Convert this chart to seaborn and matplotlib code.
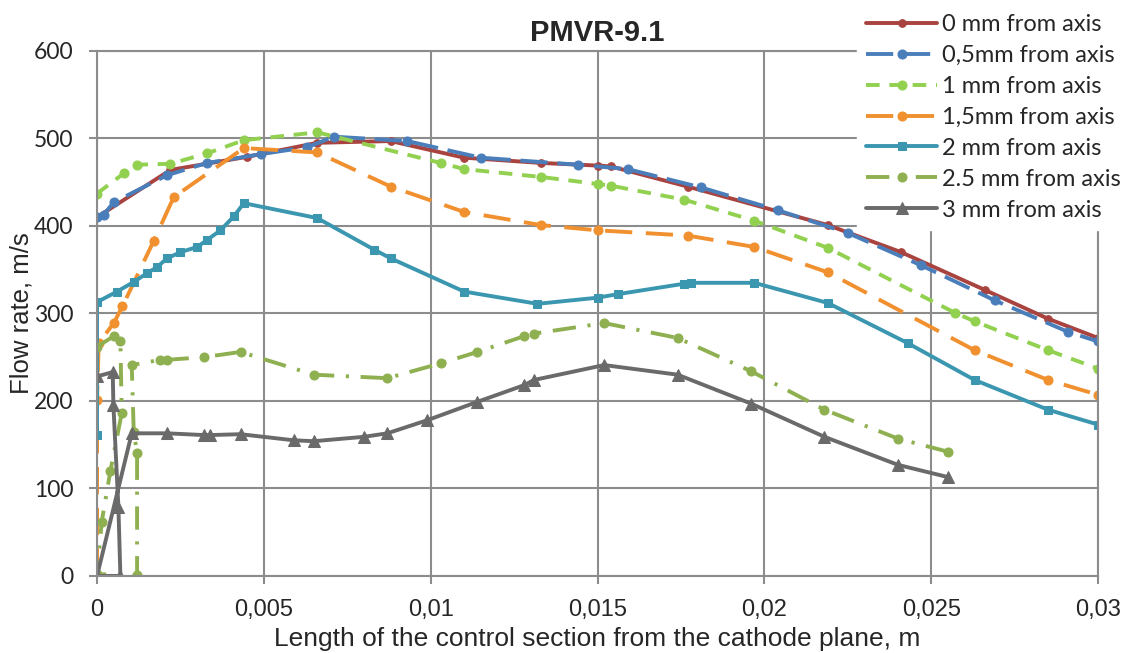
import matplotlib
matplotlib.use("Agg")
import matplotlib.pyplot as plt
import seaborn as sns
import pandas as pd

# values (x in m, y in m/s)
x_0mm = [0, 0.0022, 0.0045, 0.0066, 0.0088, 0.011, 0.0133, 0.015, 0.0154, 0.0177,
         0.0219, 0.0241, 0.0266, 0.0285, 0.03]
y_0mm = [410, 464, 479, 495, 497, 478, 472, 469, 468, 445, 401, 370, 327, 294, 272]

x_05mm = [0, 0.0002, 0.0005, 0.0021, 0.0033, 0.0049, 0.0063, 0.0071, 0.0093, 0.0115,
          0.0144, 0.0159, 0.0181, 0.0204, 0.0225, 0.0247, 0.0269, 0.0291, 0.03]
y_05mm = [410, 413, 427, 458, 472, 482, 490, 502, 497, 478, 470, 465, 444, 418, 392,
          355, 315, 279, 268]

x_1mm = [0, 0.0008, 0.0012, 0.0022, 0.0033, 0.0044, 0.0066, 0.0103, 0.011, 0.0133,
         0.015, 0.0154, 0.0176, 0.0197, 0.0219, 0.0257, 0.0263, 0.0285, 0.03]
y_1mm = [437, 460, 470, 471, 483, 498, 507, 472, 465, 456, 448, 446, 430, 406, 375,
         301, 291, 258, 237]

x_15mm = [0, 0, 0.00005, 0.0005, 0.00076, 0.0017, 0.0023, 0.0044, 0.0066, 0.0088, 0.011,
          0.0133, 0.015, 0.0177, 0.0197, 0.0219, 0.0263, 0.0285, 0.03]
y_15mm = [0, 201, 266, 289, 308, 383, 433, 489, 484, 445, 416, 401, 395, 389, 376, 347,
          258, 224, 207]

x_2mm = [0, 0, 0.0006, 0.0011, 0.0015, 0.0018, 0.0021, 0.0025, 0.003, 0.0033, 0.0037,
         0.0041, 0.0044, 0.0066, 0.0083, 0.0088, 0.011, 0.0132, 0.015, 0.0156, 0.0176,
         0.0178, 0.0197, 0.0219, 0.0243, 0.0263, 0.0285, 0.03]
y_2mm = [161, 313, 325, 336, 346, 353, 363, 370, 376, 384, 395, 411, 426, 409, 373, 363,
         325, 311, 318, 322, 334, 335, 335, 312, 266, 224, 190, 173]

x_25mm = [0, 0.0005, 0.0007, 0.00074, 0.0004, 0.00014, 0, 0.0012, 0.0012, 0.0011,
          0.00104, 0.0019, 0.0021, 0.0032, 0.0043, 0.0065, 0.0087, 0.0103, 0.0114, 0.0128,
          0.0131, 0.0152, 0.0174, 0.0196, 0.0218, 0.024, 0.0255]
y_25mm = [262, 274, 268, 186, 120, 62, 2, 1, 140, 165, 241, 247, 247, 250, 256, 230, 226,
          243, 256, 274, 277, 289, 272, 234, 190, 157, 142]

x_3mm = [0, 0.00047, 0.00049, 0.00064, 0.0007, 0, 0.00104, 0.0021, 0.0032, 0.0034, 0.0043,
         0.0059, 0.0065, 0.008, 0.0087, 0.0099, 0.0114, 0.0128, 0.0131, 0.0152, 0.0174,
         0.0196, 0.0218, 0.024, 0.0255]
y_3mm = [228, 233, 195, 79, 0, 0, 163, 163, 161, 161, 162, 155, 154, 159, 163, 178, 199,
         218, 224, 241, 230, 197, 159, 127, 113]

labels = ["0 mm from axis", "0,5mm from axis", "1 mm from axis", "1,5mm from axis",
          "2 mm from axis", "2.5 mm from axis", "3 mm from axis"]
x_ticks = [0, 0.005, 0.01, 0.015, 0.02, 0.025, 0.03]
x_tick_labels = ["0", "0,005", "0,01", "0,015", "0,02", "0,025", "0,03"]
y_ticks = [0, 100, 200, 300, 400, 500, 600]

# colour, dash pattern, marker, marker size
series = [
    (x_0mm, y_0mm, "#A9433F", None, "o", 5.5),
    (x_05mm, y_05mm, "#4A7EBB", (7, 2.5), "o", 6.5),
    (x_1mm, y_1mm, "#92D050", (3.5, 2.5), "o", 6.5),
    (x_15mm, y_15mm, "#F0902F", (7, 3.5), "o", 6.5),
    (x_2mm, y_2mm, "#3B97B0", None, "s", 6),
    (x_25mm, y_25mm, "#8FB050", (6, 3, 0.8, 3), "o", 6.5),
    (x_3mm, y_3mm, "#6A6A6A", None, "^", 8),
]

sns.set_style("white")

fig, ax = plt.subplots(figsize=(11.35, 6.53), dpi=100)
fig.subplots_adjust(left=0.0855, right=0.9674, bottom=0.118, top=0.922)

for (xs, ys, col, dash, mk, ms), lab in zip(series, labels):
    df = pd.DataFrame({"x": xs, "y": ys})
    sns.lineplot(data=df, x="x", y="y", sort=False, estimator=None, ax=ax,
                 color=col, lw=2.8, marker=mk, markersize=ms,
                 markeredgecolor=col, markerfacecolor=col, label=lab)
    if dash is not None:
        ax.lines[-1].set_dashes(dash)

ax.set_xlim(0, 0.03)
ax.set_ylim(0, 600)
ax.set_xticks(x_ticks)
ax.set_xticklabels(x_tick_labels, fontsize=17, family="Liberation Sans")
ax.set_yticks(y_ticks)
ax.set_yticklabels([str(v) for v in y_ticks], fontsize=16.5, family="Lato")
ax.grid(True, color="#8C8C8C", lw=1.5)
ax.set_axisbelow(True)
for s in ax.spines.values():
    s.set_color("#8C8C8C")
    s.set_linewidth(1.5)
ax.tick_params(axis="both", length=5.8, width=1.5, color="#8C8C8C", direction="out",
               left=True, bottom=True, pad=11)

ax.set_xlabel("Length of the control section from the cathode plane, m",
              fontsize=19, family="Liberation Sans")
ax.xaxis.set_label_coords(0.5, -0.097)
ax.set_ylabel("Flow rate, m/s", fontsize=18.5, family="Liberation Sans")
ax.yaxis.set_label_coords(-0.063, 0.5)
ax.set_title("PMVR-9.1", fontsize=21, fontweight="bold", family="Liberation Sans", pad=7)

ax.get_legend().remove()
handles, labs = ax.get_legend_handles_labels()
leg = fig.legend(handles, labs, loc="upper left", bbox_to_anchor=(857 / 1135, 0.993),
                 frameon=True, prop={"family": "Lato", "size": 17},
                 handlelength=3.0, handletextpad=0.2, labelspacing=0.42,
                 borderpad=0.4, borderaxespad=0, fancybox=False)
leg.get_frame().set_edgecolor("white")
leg.get_frame().set_facecolor("white")
leg.get_frame().set_alpha(1)

fig.savefig("out.png", dpi=100)
